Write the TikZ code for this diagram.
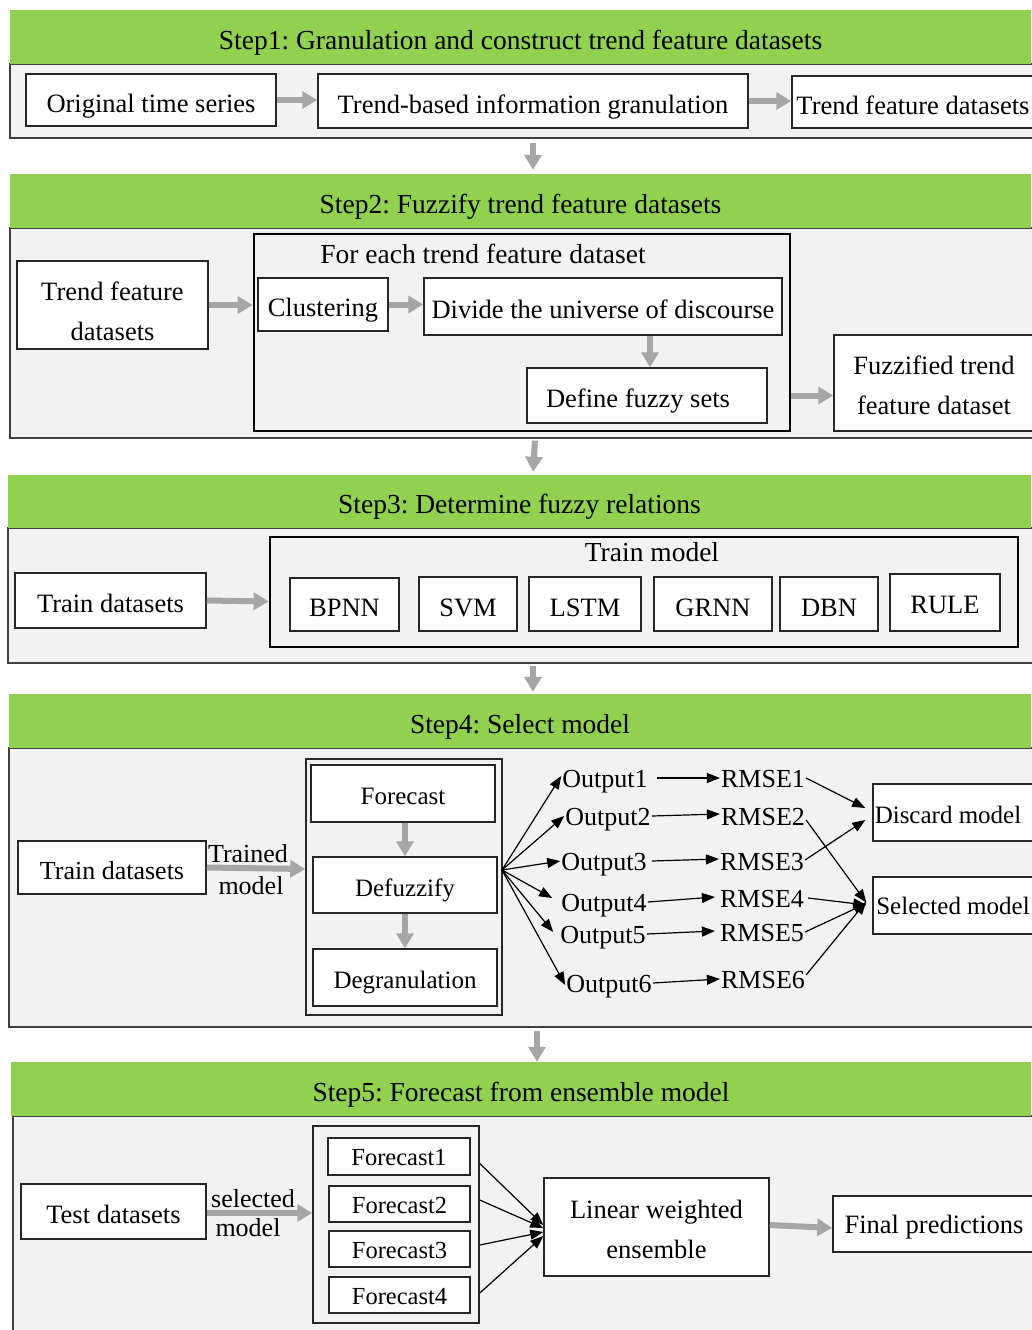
\documentclass[tikz,border=0pt]{standalone}
\usepackage{fontspec}
\setmainfont{Liberation Serif}
\usetikzlibrary{arrows.meta,calc}
\definecolor{hdrgreen}{HTML}{92D050}
\definecolor{panelgray}{HTML}{F2F2F2}
\definecolor{arrgray}{HTML}{A6A6A6}
\definecolor{edgegray}{HTML}{404040}
\tikzset{
 hdr/.style={fill=hdrgreen, draw=none, inner sep=0, text height=24pt, text depth=0pt, font=\fontsize{27.5}{33}\selectfont},
 panel/.style={fill=panelgray, draw=edgegray, line width=1.3pt, inner sep=0},
 box/.style={draw=black!85, fill=white, line width=1.5pt, inner sep=0, align=center, text height=24pt, text depth=0pt, font=\fontsize{26.5}{40}\selectfont},
 sbox/.style={box, text height=22pt, font=\fontsize{25}{30}\selectfont},
 fbox/.style={box, text height=18pt, font=\fontsize{24.5}{30}\selectfont},
 bigbox/.style={draw=black, line width=2.8pt, inner sep=0},
 midbox/.style={draw=black!85, line width=1.5pt, inner sep=0},
 garrow/.style={draw=arrgray, line width=6pt, -{Triangle[length=15pt,width=17pt]}},
 barrow/.style={draw=black, line width=1.2pt, -{Triangle[length=13pt,width=10pt]}},
 lbl/.style={inner sep=1pt, text height=18pt, text depth=0pt, font=\fontsize{26}{30}\selectfont},
}
\begin{document}
\frenchspacing
\begin{tikzpicture}[x=1pt,y=-1pt]
\useasboundingbox[fill=white] (0,0) rectangle (1031,1330);

% ---------- Step 1 ----------
\node[panel, minimum width=1025pt, minimum height=74pt] (p1) at (522.5,101) {};
\node[hdr, minimum width=1021pt, minimum height=54pt] (h1) at (520.5,37) {Step1: Granulation and construct trend feature datasets};
\node[box, minimum width=250pt, minimum height=52pt] (ots) at (151,100) {Original time series};
\node[box, minimum width=430pt, minimum height=54pt] (tbig) at (533,101) {Trend-based information granulation};
\node[box, minimum width=242pt, minimum height=52pt] (tfd1) at (913,102) {Trend feature datasets};
\draw[garrow] (ots.east) -- (ots.east -| tbig.west);
\draw[garrow] (tbig.east) -- (tbig.east -| tfd1.west);

% ---------- Step 2 ----------
\node[panel, minimum width=1025pt, minimum height=210pt] (p2) at (522.5,333) {};
\node[hdr, minimum width=1021pt, minimum height=54pt] (h2) at (520.5,201) {Step2: Fuzzify trend feature datasets};
\draw[garrow, shorten <=4pt, shorten >=4pt] ([xshift=10.5pt]p1.south) -- ([xshift=12.5pt]h2.north);
\node[box, minimum width=191pt, minimum height=88pt, text height=70pt, text depth=0pt] (tfd2) at (112.5,305) {Trend feature\\datasets};
\node[bigbox, minimum width=536pt, minimum height=197pt] (each) at (522,332.5) {};
\node[lbl, font=\fontsize{27.5}{30}\selectfont] (eachlbl) at (483,254) {For each trend feature dataset};
\node[box, minimum width=130pt, minimum height=53pt] (clu) at (323,304.5) {Clustering};
\node[box, minimum width=358pt, minimum height=57pt] (div) at (603,306.5) {Divide the universe of discourse};
\node[box, minimum width=240pt, minimum height=55pt] (dfs) at (647,395.5) {\hspace*{-18pt}Define fuzzy sets};
\node[box, minimum width=200pt, minimum height=96pt, text height=62pt, text depth=0pt] (fuz) at (934,383) {Fuzzified trend\\feature dataset};
\draw[garrow] (tfd2.east) -- (tfd2.east -| each.west);
\draw[garrow] (clu.east) -- (clu.east -| div.west);
\draw[garrow] ([xshift=3pt]dfs.north |- div.south) -- ([xshift=3pt]dfs.north);
\draw[garrow] (dfs.east -| each.east) -- (dfs.east -| fuz.west);

% ---------- Step 3 ----------
\node[panel, minimum width=1027pt, minimum height=135pt] (p3) at (521.5,595.5) {};
\node[hdr, minimum width=1023pt, minimum height=53pt] (h3) at (519.5,501.5) {Step3: Determine fuzzy relations};
\draw[garrow, shorten <=2pt, shorten >=3pt] ([xshift=12.5pt]p2.south) -- ([xshift=13.5pt]h3.north);
\node[box, minimum width=191pt, minimum height=55pt] (tr3) at (110.5,600.5) {Train datasets};
\node[bigbox, minimum width=748pt, minimum height=110pt] (tm) at (644,592) {};
\node[lbl, font=\fontsize{27.5}{30}\selectfont] (tmlbl) at (652,552) {Train model};
\node[box, minimum width=109pt, minimum height=53pt] (bpnn) at (344.5,604.5) {BPNN};
\node[box, minimum width=98pt, minimum height=54pt] (svm) at (468,604) {SVM};
\node[box, minimum width=112pt, minimum height=54pt] (lstm) at (585,604) {LSTM};
\node[box, minimum width=118pt, minimum height=54pt] (grnn) at (713,604) {GRNN};
\node[box, minimum width=98pt, minimum height=54pt] (dbn) at (829,604) {DBN};
\node[box, minimum width=110pt, minimum height=57pt, text height=22pt] (rule) at (945,602.5) {RULE};
\draw[garrow] (tr3.east) -- ([yshift=-1pt]tr3.east -| tm.west);

% ---------- Step 4 ----------
\node[panel, minimum width=1026pt, minimum height=279pt] (p4) at (522,887.5) {};
\node[hdr, minimum width=1022pt, minimum height=54pt] (h4) at (520,721) {Step4: Select model};
\draw[garrow, shorten <=2pt, shorten >=2pt] ([xshift=11.5pt]p3.south) -- ([xshift=13pt]h4.north);
\node[sbox, minimum width=188pt, minimum height=53pt, text height=24pt, font=\fontsize{26}{30}\selectfont] (tr4) at (112,867.5) {Train datasets};
\node[midbox, minimum width=196pt, minimum height=256pt] (out4) at (404,887) {};
\node[sbox, minimum width=184pt, minimum height=57pt] (fc) at (403,793.5) {Forecast};
\node[sbox, minimum width=184pt, minimum height=56pt] (df) at (405,885) {Defuzzify};
\node[sbox, minimum width=184pt, minimum height=57pt] (dg) at (405,977.5) {Degranulation};
\draw[garrow] (tr4.east) -- ([yshift=-1.5pt]tr4.east -| out4.west);
\node[lbl] (trl1) at (248,853) {Trained};
\node[lbl] (trl2) at (251,885) {model};
\draw[garrow] ([xshift=2pt]fc.south) -- ([xshift=2pt]fc.south |- df.north);
\draw[garrow] (df.south) -- (df.south |- dg.north);

\coordinate (fan) at (502,870);
\node[lbl] (o1) at (605,778) {Output1};
\node[lbl] (o2) at (608,816) {Output2};
\node[lbl] (o3) at (604,861) {Output3};
\node[lbl] (o4) at (604,902) {Output4};
\node[lbl] (o5) at (603,934) {Output5};
\node[lbl] (o6) at (609,983) {Output6};
\node[lbl] (r1) at (763,778) {RMSE1};
\node[lbl] (r2) at (763,816) {RMSE2};
\node[lbl] (r3) at (762,861) {RMSE3};
\node[lbl] (r4) at (762,898) {RMSE4};
\node[lbl] (r5) at (762,932) {RMSE5};
\node[lbl] (r6) at (763,979) {RMSE6};
\node[sbox, minimum width=161pt, minimum height=57pt] (disc) at (953.5,812.5) {\hspace*{-11pt}Discard model};
\node[sbox, minimum width=161pt, minimum height=57pt, text height=18pt] (sel) at (953.5,905.5) {\hspace*{-1pt}Selected model};
\draw[barrow] (fan) -- ([yshift=2pt]o1.west);
\draw[barrow] (fan) -- (o2.west);
\draw[barrow] (fan) -- (o3.west);
\draw[barrow] (fan) -- ([xshift=-8pt,yshift=4pt]o4.west);
\draw[barrow] (fan) -- ([xshift=-6pt,yshift=2pt]o5.west);
\draw[barrow] (fan) -- ([yshift=-2pt]o6.west);
\draw[barrow] ([xshift=8pt]o1.east) -- (r1.west);
\draw[barrow] (o2.east) -- ([yshift=2pt]r2.west);
\draw[barrow] ([xshift=4pt]o3.east) -- ([yshift=2pt]r3.west);
\draw[barrow] (o4.east) -- ([xshift=-4pt,yshift=1pt]r4.west);
\draw[barrow] (o5.east) -- ([xshift=-4pt,yshift=1pt]r5.west);
\draw[barrow] (o6.east) -- (r6.west);
\draw[barrow] (r1.east) -- ([xshift=-7pt,yshift=4.5pt]disc.west);
\draw[barrow] ([yshift=1pt]r3.east) -- ([xshift=-7pt,yshift=-7.5pt]disc.west);
\draw[barrow] ([yshift=-4pt]r2.east) -- ([xshift=-6pt,yshift=3pt]sel.west);
\draw[barrow] ([xshift=3pt]r4.east) -- ([xshift=-6pt,yshift=0.5pt]sel.west);
\draw[barrow] (r5.east) -- ([xshift=-6pt,yshift=2pt]sel.west);
\draw[barrow] ([yshift=4pt]r6.east) -- ([xshift=-6pt,yshift=4pt]sel.west);

% ---------- Step 5 ----------
\node[panel, minimum width=1022pt, minimum height=217pt] (p5) at (524,1224.5) {};
\node[hdr, minimum width=1020pt, minimum height=54pt] (h5) at (521,1089) {Step5: Forecast from ensemble model};
\draw[garrow, shorten <=3pt, shorten >=0pt] ([xshift=15pt]p4.south) -- ([xshift=16pt]h5.north);
\node[box, minimum width=185pt, minimum height=55pt] (test) at (113.5,1211.5) {Test datasets};
\node[midbox, minimum width=166pt, minimum height=197pt] (out5) at (396,1224.5) {};
\node[fbox, minimum width=142pt, minimum height=37pt] (f1) at (399,1156.5) {Forecast1};
\node[fbox, minimum width=141pt, minimum height=36pt] (f2) at (399.5,1204) {Forecast2};
\node[fbox, minimum width=141pt, minimum height=36pt] (f3) at (399.5,1249) {Forecast3};
\node[fbox, minimum width=141pt, minimum height=36pt] (f4) at (399.5,1295) {Forecast4};
\draw[garrow] ([yshift=-1.5pt]test.east) -- ([yshift=-1.5pt]test.east -| out5.west);
\node[lbl] (sl1) at (253,1198) {selected};
\node[lbl] (sl2) at (248,1227) {model};
\node[box, minimum width=225pt, minimum height=98pt, text height=62pt, text depth=0pt] (lin) at (656.5,1227) {Linear weighted\\ensemble};
\node[box, minimum width=201pt, minimum height=56pt, text height=18pt] (fin) at (933.5,1224) {\hspace*{1pt}Final predictions};
\draw[barrow] ([yshift=-7pt]out5.east |- f1.east) -- ([yshift=2pt]lin.west);
\draw[barrow] ([yshift=4pt]out5.east |- f2.east) -- ([yshift=-1pt]lin.west);
\draw[barrow] ([yshift=4pt]out5.east |- f3.east) -- ([yshift=-5pt]lin.west);
\draw[barrow] ([yshift=2pt]out5.east |- f4.east) -- ([yshift=-9pt]lin.west);
\draw[garrow] ([yshift=2pt]lin.east) -- ([yshift=-1pt]lin.east -| fin.west);
\end{tikzpicture}
\end{document}
